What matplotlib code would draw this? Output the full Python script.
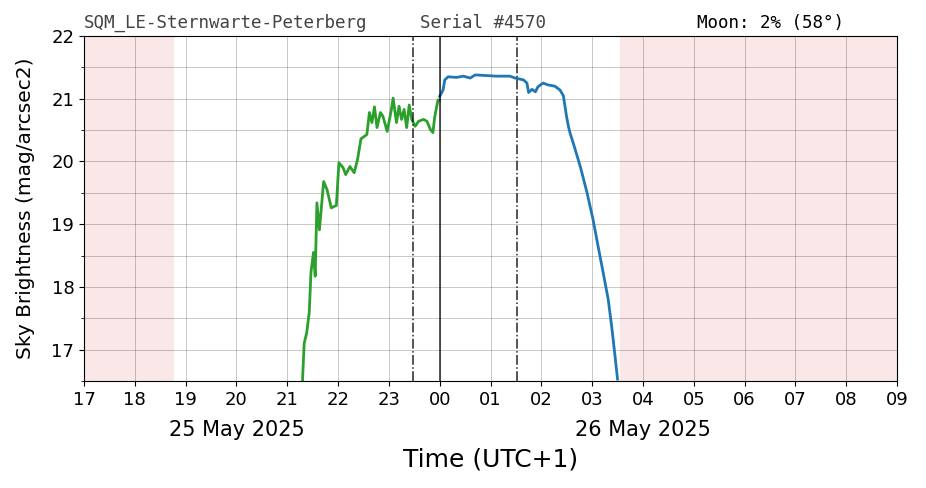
import matplotlib
matplotlib.use("Agg")
import matplotlib.pyplot as plt
import matplotlib.dates as mdates
from matplotlib.ticker import MultipleLocator
import pandas as pd

# evening readings (25 May, before midnight)
evening_times = ["21:18", "21:20", "21:23", "21:26", "21:28", "21:31", "21:33", "21:35",
                 "21:38", "21:43", "21:47", "21:52", "21:58", "22:01", "22:06", "22:09",
                 "22:14", "22:19", "22:23", "22:27", "22:34", "22:37", "22:40", "22:43",
                 "22:46", "22:50", "22:53", "22:58", "23:03", "23:05", "23:09", "23:12",
                 "23:15", "23:18", "23:21", "23:24", "23:27", "23:31", "23:35", "23:41",
                 "23:45", "23:49", "23:52", "23:54", "23:58"]
evening_mag = [16.50, 17.10, 17.27, 17.60, 18.23, 18.55, 18.17, 19.34,
               18.91, 19.68, 19.55, 19.26, 19.30, 19.98, 19.90, 19.79,
               19.92, 19.82, 20.03, 20.36, 20.43, 20.78, 20.62, 20.87,
               20.54, 20.78, 20.72, 20.48, 20.83, 21.01, 20.62, 20.88,
               20.67, 20.83, 20.54, 20.90, 20.67, 20.56, 20.64, 20.67,
               20.64, 20.51, 20.46, 20.70, 20.98]

# morning readings (26 May, after midnight)
morning_times = ["00:00", "00:04", "00:06", "00:10", "00:20", "00:28", "00:36", "00:42",
                 "01:07", "01:23", "01:29", "01:39", "01:43", "01:45", "01:49", "01:53",
                 "01:56", "02:02", "02:08", "02:16", "02:22", "02:26", "02:30", "02:32",
                 "02:34", "02:38", "02:46", "02:54", "03:01", "03:07", "03:13", "03:19",
                 "03:23", "03:27", "03:30"]
morning_mag = [21.04, 21.14, 21.30, 21.35, 21.34, 21.36, 21.33, 21.38,
               21.36, 21.36, 21.33, 21.30, 21.25, 21.10, 21.15, 21.11,
               21.19, 21.25, 21.22, 21.20, 21.14, 21.05, 20.70, 20.56,
               20.45, 20.28, 19.92, 19.50, 19.08, 18.65, 18.23, 17.80,
               17.38, 16.90, 16.53]

day1 = "2025-05-25 "
day2 = "2025-05-26 "
t_start = pd.Timestamp(day1 + "17:00")
t_end = pd.Timestamp(day2 + "09:00")
dusk_end = pd.Timestamp(day1 + "18:46")     # daylight shading end
dawn_start = pd.Timestamp(day2 + "03:33")   # daylight shading start
dark_lines = [pd.Timestamp(day1 + "23:29"), pd.Timestamp(day2 + "01:31")]
midnight = pd.Timestamp(day2 + "00:00")

ev_t = pd.to_datetime([day1 + t for t in evening_times])
mo_t = pd.to_datetime([day2 + t for t in morning_times])
ev_t = list(ev_t) + [mo_t[0]]
ev_m = evening_mag + [morning_mag[0] - 0.06]

fig = plt.figure(figsize=(9.26, 4.88), dpi=100)
ax = fig.add_axes([0.0907, 0.2193, 0.878, 0.7069])

ax.axvspan(t_start, dusk_end, color="tab:red", alpha=0.11, lw=0)
ax.axvspan(dawn_start, t_end, color="tab:red", alpha=0.11, lw=0)

ax.plot(ev_t, ev_m, color="tab:green", lw=2)
ax.plot(mo_t, morning_mag, color="tab:blue", lw=2)

for t in dark_lines:
    ax.axvline(t, color="black", ls="-.", lw=1.1, alpha=0.85)
ax.axvline(midnight, color="black", lw=1.1, alpha=0.85)

ax.set_xlim(t_start, t_end)
ax.set_ylim(16.5, 22)
ax.yaxis.set_major_locator(MultipleLocator(1))
ax.yaxis.set_minor_locator(MultipleLocator(0.5))
ax.xaxis.set_major_locator(mdates.HourLocator())
ax.xaxis.set_major_formatter(mdates.DateFormatter("%H"))
ax.grid(True, which="both", color="black", alpha=0.3, lw=0.5)
ax.tick_params(labelsize=13)

ax.set_ylabel("Sky Brightness (mag/arcsec2)", fontsize=14.5, labelpad=12)
ax.set_xlabel("Time (UTC+1)", fontsize=18, labelpad=28)

for d, lab in [(pd.Timestamp(day1 + "20:00"), "25 May 2025"),
               (pd.Timestamp(day2 + "04:00"), "26 May 2025")]:
    ax.annotate(lab, xy=(mdates.date2num(d), 0), xycoords=("data", "axes fraction"),
                xytext=(0, -28), textcoords="offset points", ha="center", va="top",
                fontsize=15)

ax.text(0.0, 1.012, "SQM_LE-Sternwarte-Peterberg", transform=ax.transAxes,
        family="DejaVu Sans Mono", fontsize=12.6, color="#444444", va="bottom")
ax.text(0.413, 1.012, "Serial #4570", transform=ax.transAxes,
        family="DejaVu Sans Mono", fontsize=12.6, color="#444444", va="bottom")
ax.text(0.754, 1.012, "Moon: 2% (58°)", transform=ax.transAxes,
        family="DejaVu Sans Mono", fontsize=12.6, color="black", va="bottom")

fig.savefig("out.png", dpi=100)
